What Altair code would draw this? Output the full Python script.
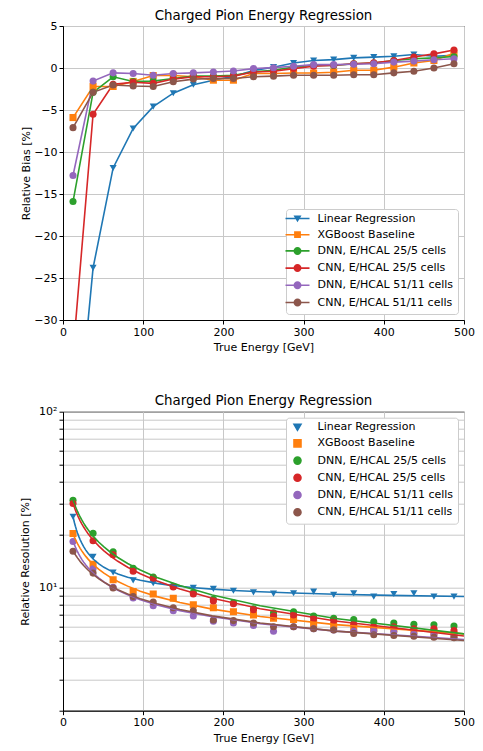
import altair as alt
import pandas as pd
import numpy as np

energy = [12.5, 37.5, 62.5, 87.5, 112.5, 137.5, 162.5, 187.5, 212.5, 237.5,
          262.5, 287.5, 312.5, 337.5, 362.5, 387.5, 412.5, 437.5, 462.5, 487.5]

series_names = ["Linear Regression", "XGBoost Baseline", "DNN, E/HCAL 25/5 cells",
                "CNN, E/HCAL 25/5 cells", "DNN, E/HCAL 51/11 cells", "CNN, E/HCAL 51/11 cells"]
colors = ["#1f77b4", "#ff7f0e", "#2ca02c", "#d62728", "#9467bd", "#8c564b"]
shapes = ["triangle-down", "square", "circle", "circle", "circle", "circle"]

# Relative bias [%]
bias_linear = [-49, -23.8, -11.9, -7.2, -4.6, -3.0, -2.0, -1.45, -1.0, -0.3,
               0.1, 0.6, 0.9, 1.0, 1.2, 1.3, 1.4, 1.6, 1.4, 1.5]
bias_xgb = [-5.9, -2.2, -2.2, -1.6, -0.9, -0.9, -1.05, -1.45, -1.45, -0.66,
            -0.66, -0.6, -0.6, -0.5, -0.27, -0.27, 0.1, 0.6, 0.9, 1.75]
bias_dnn25 = [-15.9, -2.9, -1.05, -1.6, -1.56, -1.25, -0.97, -0.97, -0.86, -0.47,
              -0.27, 0.1, 0.32, 0.3, 0.5, 0.6, 0.9, 1.1, 1.2, 1.37]
bias_cnn25 = [-34, -5.5, -1.95, -1.7, -1.83, -1.32, -1.05, -1.05, -0.97, -0.47,
              -0.39, -0.07, 0.2, 0.32, 0.5, 0.63, 0.9, 1.3, 1.68, 2.15]
bias_dnn51 = [-12.8, -1.56, -0.58, -0.66, -0.86, -0.66, -0.58, -0.47, -0.35, -0.07,
              0.04, 0.2, 0.4, 0.4, 0.45, 0.5, 0.7, 0.82, 0.98, 1.1]
bias_cnn51 = [-7.1, -2.9, -2.03, -2.15, -2.2, -1.64, -1.32, -1.25, -1.25, -1.05,
              -0.97, -0.86, -0.86, -0.86, -0.8, -0.8, -0.58, -0.39, 0.0, 0.5]

# Relative resolution [%]
res_linear = [25.3, 15.0, 12.2, 11.0, 10.6, 10.1, 10.0, 9.85, 9.6, 9.4,
              9.25, 9.3, 9.5, 9.1, 9.3, 8.9, 9.2, 9.3, 8.9, 8.9]
res_xgb = [20.3, 13.6, 11.1, 9.5, 9.2, 8.7, 8.0, 7.7, 7.3, 7.0,
           6.7, 6.6, 6.25, 6.1, 5.9, 5.85, 5.85, 5.7, 5.6, 5.4]
res_dnn25 = [31.4, 20.4, 16.0, 12.9, 11.5, 10.2, 9.4, 8.6, 8.2, 7.6,
             7.2, 7.3, 6.9, 6.7, 6.6, 6.4, 6.3, 6.2, 6.15, 6.05]
res_cnn25 = [30.1, 18.5, 15.4, 12.4, 11.3, 10.1, 9.2, 8.4, 8.1, 7.5,
             6.9, 7.0, 6.65, 6.5, 6.2, 6.0, 6.0, 5.85, 5.85, 5.7]
res_dnn51 = [18.3, 12.8, 10.05, 8.75, 7.9, 7.4, 6.9, 6.45, 6.3, 6.1,
             5.65, 6.0, 5.85, 5.75, 5.65, 5.7, 5.6, 5.45, 5.4, 5.35]
res_cnn51 = [16.1, 12.1, 9.95, 8.9, 8.3, 7.7, 7.4, 6.55, 6.5, 6.3,
             6.0, 6.0, 5.85, 5.75, 5.5, 5.4, 5.35, 5.3, 5.23, 5.2]

x_ticks = [0, 100, 200, 300, 400, 500]
bias_ticks = [-30, -25, -20, -15, -10, -5, 0, 5]
res_ticks = [2, 3, 4, 5, 6, 7, 8, 9, 10, 20, 30, 40, 50, 60, 70, 80, 90, 100]

bias_series = [bias_linear, bias_xgb, bias_dnn25, bias_cnn25, bias_dnn51, bias_cnn51]
res_series = [res_linear, res_xgb, res_dnn25, res_cnn25, res_dnn51, res_cnn51]


def long_table(series_values):
    rows = []
    for name, vals in zip(series_names, series_values):
        for e, v in zip(energy, vals):
            rows.append({"E": e, "value": v, "series": name})
    return pd.DataFrame(rows)


bias_df = long_table(bias_series)
res_df = long_table(res_series)

FONT = "DejaVu Sans"
color_scale = alt.Scale(domain=series_names, range=colors)
shape_scale = alt.Scale(domain=series_names, range=shapes)

# legend symbols for the top chart: a line with the marker on it
line_part = "M-3,-0.2L3,-0.2L3,0.2L-3,0.2Z"
legend_paths = {
    "triangle-down": line_part + "M-1,-0.75L1,-0.75L0,0.95Z",
    "square": line_part + "M-0.85,-0.85L0.85,-0.85L0.85,0.85L-0.85,0.85Z",
    "circle": line_part + "M-1,0A1,1,0,1,1,1,0A1,1,0,1,1,-1,0Z",
}
legend_shape_scale = alt.Scale(domain=series_names, range=[legend_paths[s] for s in shapes])

common_legend = dict(
    title=None, padding=4, rowPadding=2.2, labelOffset=14.5,
    labelFontSize=11, labelFont=FONT, labelColor="black", labelLimit=400,
    strokeColor="#cccccc", fillColor="white", cornerRadius=3, offset=6,
    symbolOpacity=1, symbolOffset=2,
)
legend_top = alt.Legend(orient="bottom-right", symbolSize=64, **common_legend)
legend_bottom = alt.Legend(orient="top-right", symbolSize=50, **common_legend)

x_enc = alt.X("E:Q", scale=alt.Scale(domain=[0, 500], nice=False),
              axis=alt.Axis(values=x_ticks, title="True Energy [GeV]", labelFlush=False,
                            titleY=27.5, titleBaseline="middle"))
y_top = alt.Y("value:Q", scale=alt.Scale(domain=[-30, 5], nice=False, zero=False),
              axis=alt.Axis(values=bias_ticks, title="Relative Bias [%]", labelFlush=False,
                            titleX=-36.6, titleBaseline="middle"))
y_bot = alt.Y("value:Q", scale=alt.Scale(type="log", domain=[2, 100], nice=False),
              axis=alt.Axis(values=res_ticks, title="Relative Resolution [%]",
                            labelFlush=False, labelOverlap=False,
                            labelExpr="datum.value == 10 ? '10¹' : datum.value == 100 ? '10²' : ''",
                            titleX=-37.5, titleBaseline="middle"))

title_kw = dict(fontSize=13.4, fontWeight="normal", font=FONT, color="black",
                frame="group", anchor="middle", offset=-2)

top_lines = alt.Chart(bias_df).mark_line(clip=True, strokeWidth=1.6).encode(
    x=x_enc, y=y_top,
    color=alt.Color("series:N", scale=color_scale, legend=None),
)
top_points = alt.Chart(bias_df).mark_point(filled=True, size=50, opacity=1, clip=True).encode(
    x=x_enc, y=y_top,
    color=alt.Color("series:N", scale=color_scale, legend=None),
    shape=alt.Shape("series:N", scale=shape_scale, legend=None),
)
# legend-only layer: no rows pass the filter, entries come from the scale domain
top_legend = alt.Chart(bias_df).transform_filter("false").mark_point(
    filled=True, size=64, opacity=1
).encode(
    x=x_enc, y=y_top,
    color=alt.Color("series:N", scale=color_scale, legend=legend_top),
    shape=alt.Shape("series:N", scale=legend_shape_scale, legend=legend_top),
)
top = alt.layer(top_lines, top_points, top_legend).resolve_scale(
    color="independent", shape="independent"
).properties(
    width=401, height=294,
    title=alt.TitleParams("Charged Pion Energy Regression", **title_kw),
)

u_lo = 1 / np.sqrt(max(x_ticks))
u_hi = 1 / np.sqrt(min(energy))

bot_points = alt.Chart(res_df).mark_point(filled=True, size=50, opacity=1, clip=True).encode(
    x=x_enc, y=y_bot,
    color=alt.Color("series:N", scale=color_scale, legend=legend_bottom),
    shape=alt.Shape("series:N", scale=shape_scale, legend=legend_bottom),
)
bot_fit = alt.Chart(res_df).transform_calculate(
    u="1 / sqrt(datum.E)"
).transform_regression(
    "u", "value", method="poly", order=2, groupby=["series"], extent=[u_lo, u_hi]
).transform_calculate(
    E="1 / (datum.u * datum.u)"
).mark_line(clip=True, strokeWidth=1.6).encode(
    x=x_enc, y=y_bot,
    color=alt.Color("series:N", scale=color_scale, legend=None),
)
bottom = alt.layer(bot_points, bot_fit).properties(
    width=401, height=299,
    title=alt.TitleParams("Charged Pion Energy Regression", **title_kw),
)

chart = alt.vconcat(top, bottom, spacing=40.7).resolve_scale(
    color="independent", shape="independent"
).properties(
    padding={"left": 11, "top": 0, "right": 0, "bottom": 0}
).configure_axis(
    labelFont=FONT, titleFont=FONT, labelFontSize=11, titleFontSize=11,
    titleFontWeight="normal", labelColor="black", titleColor="black",
    tickColor="black", domainColor="black", tickSize=4, labelPadding=2,
    gridColor="#c8c8c8", gridWidth=1,
).configure_view(stroke="black", strokeWidth=1)

chart.save("out.html", embed_options={"renderer": "svg", "actions": False})
